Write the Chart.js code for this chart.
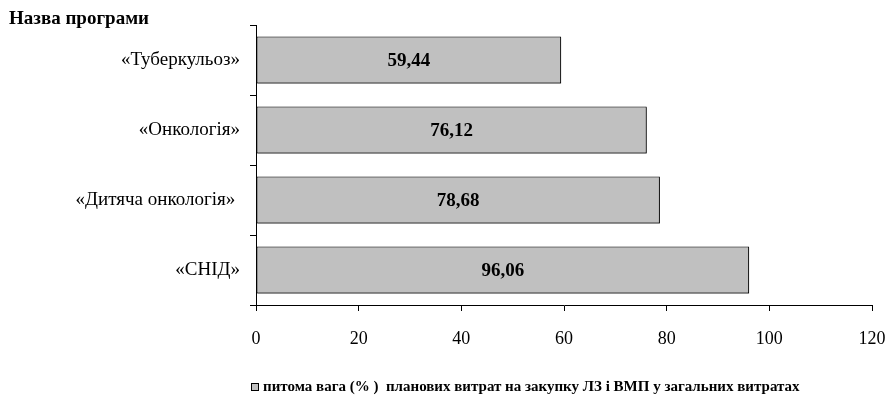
<!DOCTYPE html>
<html>
<head>
<meta charset="utf-8">
<script src="https://cdn.jsdelivr.net/npm/chart.js@4/dist/chart.umd.min.js"></script>
<style>
  html, body { margin: 0; padding: 0; background: #fff; }
  #wrap { width: 888px; height: 399px; }
</style>
</head>
<body>
<div id="wrap"><canvas id="c" width="888" height="399"></canvas></div>
<script>
// Programme names and the planned share of spending on medicines
const programmes = ['«Туберкульоз»', '«Онкологія»', '«Дитяча онкологія» ', '«СНІД»'];
const shareValues = [59.44, 76.12, 78.68, 96.06];
const valueLabels = ['59,44', '76,12', '78,68', '96,06'];
const seriesName = 'питома вага (% )  планових витрат на закупку ЛЗ і ВМП у загальних витратах';
const axisTitle = 'Назва програми';

const SERIF = "'Liberation Serif', 'DejaVu Serif', serif";

// Thin dark drop shadow along the lower/right bar edges
const barShadowPlugin = {
  id: 'barShadow',
  beforeDatasetDraw(chart) {
    const ctx = chart.ctx;
    ctx.save();
    ctx.shadowColor = 'rgba(0,0,0,0.55)';
    ctx.shadowOffsetX = 1;
    ctx.shadowOffsetY = 1;
    ctx.shadowBlur = 0;
  },
  afterDatasetDraw(chart) {
    chart.ctx.restore();
  }
};

// Writes the value in the middle of each bar
const barValuePlugin = {
  id: 'barValues',
  afterDatasetsDraw(chart) {
    const ctx = chart.ctx;
    const meta = chart.getDatasetMeta(0);
    ctx.save();
    ctx.font = 'bold 19px ' + SERIF;
    ctx.fillStyle = '#000';
    ctx.textAlign = 'center';
    ctx.textBaseline = 'middle';
    meta.data.forEach((bar, i) => {
      const cx = (bar.base + bar.x) / 2;
      ctx.fillText(valueLabels[i], cx, bar.y + 1);
    });
    ctx.restore();
  }
};

// Axis caption in the top-left corner and the series key underneath
const captionPlugin = {
  id: 'caption',
  afterDraw(chart) {
    const ctx = chart.ctx;
    ctx.save();
    ctx.fillStyle = '#000';
    ctx.textAlign = 'left';
    ctx.textBaseline = 'middle';
    ctx.font = 'bold 19px ' + SERIF;
    ctx.fillText(axisTitle, 9, 19);

    const ds = chart.data.datasets[0];
    const keyY = 387;
    ctx.fillStyle = ds.backgroundColor;
    ctx.fillRect(251.5, keyY - 3.5, 7, 7);
    ctx.strokeStyle = '#000';
    ctx.lineWidth = 1;
    ctx.strokeRect(251.5, keyY - 3.5, 7, 7);
    ctx.fillStyle = '#000';
    ctx.font = 'bold 15px ' + SERIF;
    ctx.fillText(ds.label, 263, keyY);
    ctx.restore();
  }
};

new Chart(document.getElementById('c'), {
  type: 'bar',
  data: {
    labels: programmes,
    datasets: [{
      label: seriesName,
      data: shareValues,
      backgroundColor: '#c0c0c0',
      borderColor: '#000',
      borderWidth: 1,
      borderSkipped: false,
      categoryPercentage: 1,
      barPercentage: 0.67
    }]
  },
  options: {
    indexAxis: 'y',
    responsive: false,
    animation: false,
    layout: { padding: { top: 25, right: 16, bottom: 0, left: 0 } },
    scales: {
      x: {
        min: 0,
        max: 120,
        ticks: { stepSize: 20, color: '#000', font: { family: SERIF, size: 18 }, padding: 17 },
        grid: { drawOnChartArea: false, color: '#000', tickLength: 6, tickColor: '#000' },
        border: { color: '#000', width: 1 },
        afterFit(scale) { scale.height = 94; scale.paddingRight = 0; scale.paddingLeft = 0; }
      },
      y: {
        offset: true,
        ticks: { color: '#000', font: { family: SERIF, size: 19 }, padding: 10 },
        grid: { offset: true, drawOnChartArea: false, tickLength: 6, tickColor: '#000' },
        border: { color: '#000', width: 1 },
        afterFit(scale) { scale.width = 256; }
      }
    },
    plugins: {
      legend: { display: false },
      tooltip: { enabled: false }
    }
  },
  plugins: [barShadowPlugin, barValuePlugin, captionPlugin]
});
</script>
</body>
</html>
